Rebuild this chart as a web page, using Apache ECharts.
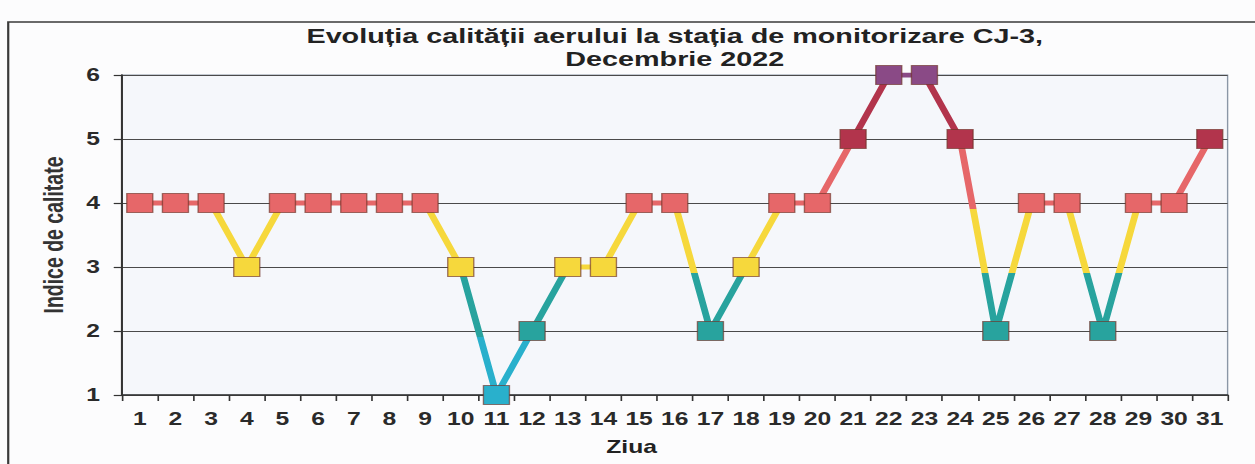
<!DOCTYPE html>
<html>
<head>
<meta charset="utf-8">
<script src="https://cdn.jsdelivr.net/npm/echarts@6/dist/echarts.min.js"></script>
<style>
  html, body { margin: 0; padding: 0; background: #fcfcfd; overflow: hidden; }
  /* the scanned chart is stretched sideways, so draw it narrow and stretch it */
  #chart {
    width: 916px;
    height: 464px;
    transform: scaleX(1.3701);
    transform-origin: 0 0;
  }
</style>
</head>
<body>
<div id="chart"></div>
<script>
const days = ['1', '2', '3', '4', '5', '6', '7', '8', '9', '10', '11', '12', '13', '14', '15', '16',
  '17', '18', '19', '20', '21', '22', '23', '24', '25', '26', '27', '28', '29', '30', '31']
const qualityIndex = [4, 4, 4, 3, 4, 4, 4, 4, 4, 3, 1, 2, 3, 3, 4, 4, 2, 3, 4, 4, 5, 6, 6, 5, 2, 4, 4, 2, 4, 4, 5]
const indexMin = 1
const indexMax = 6
const indexStep = 1

const font = '"Liberation Sans", Arial, sans-serif'

const chart = echarts.init(document.getElementById('chart'), null, { renderer: 'svg' })

// colour bands sit just below each integer so flat runs keep one colour
const band = (v) => v - 0.1

chart.setOption({
  backgroundColor: 'transparent',
  textStyle: { fontFamily: font },
  title: {
    text: 'Evoluția calității aerului la stația de monitorizare CJ-3,\nDecembrie 2022',
    left: 492.5,
    top: 23,
    padding: 0,
    textAlign: 'center',
    textStyle: {
      fontFamily: font,
      fontSize: 21,
      fontWeight: 'bold',
      lineHeight: 24,
      color: '#222'
    }
  },
  graphic: [
    {
      type: 'rect',
      silent: true,
      shape: { x: 6, y: 22, width: 1000, height: 500 },
      style: { fill: null, stroke: '#3a3a3a', lineWidth: 1.6 }
    }
  ],
  grid: {
    left: 89,
    right: 20,
    top: 75,
    bottom: 69,
    show: true,
    backgroundColor: '#f5f7fb',
    borderColor: '#8a96a6',
    borderWidth: 1
  },
  xAxis: {
    type: 'category',
    data: days,
    boundaryGap: true,
    name: 'Ziua',
    nameLocation: 'middle',
    nameGap: 43,
    nameTextStyle: {
      fontFamily: font,
      fontSize: 18,
      fontWeight: 'bold',
      color: '#222',
      padding: [0, 63, 0, 0]
    },
    axisLine: { lineStyle: { color: '#333', width: 1.5 } },
    axisTick: { show: true, interval: 0, length: 6, lineStyle: { color: '#333', width: 1.2 } },
    axisLabel: {
      interval: 0,
      margin: 15,
      fontFamily: font,
      fontSize: 18,
      fontWeight: 'bold',
      color: '#2a2a2a'
    },
    splitLine: { show: false }
  },
  yAxis: {
    type: 'value',
    min: indexMin,
    max: indexMax,
    interval: indexStep,
    name: 'Indice de calitate',
    nameLocation: 'middle',
    nameGap: 40,
    nameTextStyle: {
      fontFamily: font,
      fontSize: 19.5,
      fontWeight: 'bold',
      color: '#333'
    },
    axisLine: { show: true, lineStyle: { color: '#333', width: 1.5 } },
    axisTick: { show: true, length: 6, lineStyle: { color: '#333', width: 1.2 } },
    axisLabel: {
      margin: 16,
      fontFamily: font,
      fontSize: 18,
      fontWeight: 'bold',
      color: '#2a2a2a'
    },
    splitLine: { lineStyle: { color: '#4a4a4a', width: 1 } }
  },
  visualMap: {
    type: 'piecewise',
    show: false,
    seriesIndex: 0,
    dimension: 1,
    pieces: [
      { lt: band(2), color: '#29b0cc' },
      { gte: band(2), lt: band(3), color: '#28a39e' },
      { gte: band(3), lt: band(4), color: '#f6d83c' },
      { gte: band(4), lt: band(5), color: '#e66769' },
      { gte: band(5), lt: band(6), color: '#b2344c' },
      { gte: band(6), color: '#8a4a86' }
    ]
  },
  series: [
    {
      type: 'line',
      data: qualityIndex,
      symbol: 'rect',
      symbolSize: [19, 19],
      lineStyle: { width: 5 },
      itemStyle: {
        borderColor: 'rgba(110, 50, 40, 0.65)',
        borderWidth: 1
      },
      emphasis: { disabled: true },
      z: 3
    }
  ]
})
</script>
</body>
</html>
